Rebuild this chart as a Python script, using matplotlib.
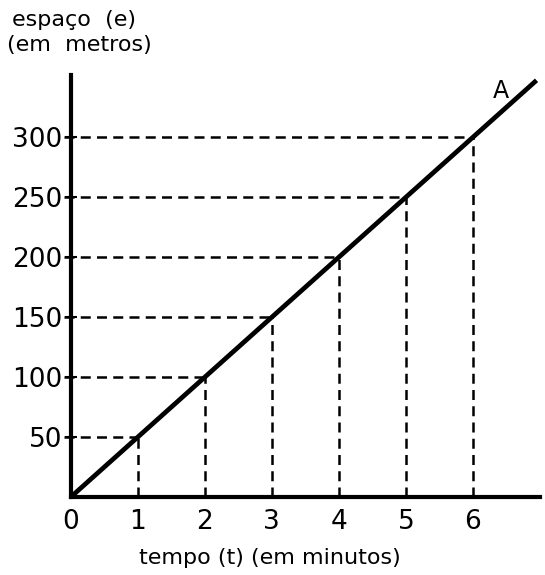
import matplotlib.pyplot as plt

# tempo (min) e espaço (m)
tempo = [0, 1, 2, 3, 4, 5, 6, 6.95]
espaco = [0, 50, 100, 150, 200, 250, 300, 347.5]
marcas_t = [1, 2, 3, 4, 5, 6]
marcas_e = [50, 100, 150, 200, 250, 300]
rotulos_x = ['0', '1', '2', '3', '4', '5', '6']


def main():
    plt.rcParams['font.family'] = ['DejaVu Sans']
    fig = plt.figure(figsize=(5.45, 5.75), dpi=100)
    ax = fig.add_axes([0.130, 0.1357, 0.8606, 0.734])

    ax.set_xlim(0, 7)
    ax.set_ylim(0, 352)

    # linhas de chamada tracejadas
    for t, e in zip(marcas_t, marcas_e):
        ax.plot([-0.1, t], [e, e], color='black', lw=1.8, ls=(0, (4, 2.5)),
                clip_on=False)
        ax.plot([t, t], [0, e], color='black', lw=1.8, ls=(0, (4, 2.5)))

    # reta do movimento
    ax.plot(tempo, espaco, color='black', lw=3.4, solid_capstyle='butt')
    ax.text(6.42, 339, 'A', fontsize=17, ha='center', va='center')

    for side in ['top', 'right']:
        ax.spines[side].set_visible(False)
    for side in ['left', 'bottom']:
        ax.spines[side].set_linewidth(3)

    ax.set_yticks(marcas_e)
    ax.set_yticklabels([str(v) for v in marcas_e], fontsize=19)
    ax.tick_params(axis='y', direction='inout', length=8, width=1.5, pad=2)

    ax.set_xticks(range(0, 7))
    ax.set_xticklabels(rotulos_x, fontsize=19)
    ax.tick_params(axis='x', length=0, pad=9)

    fig.text(0.496, 0.029, 'tempo (t) (em minutos)', fontsize=16,
             ha='center', va='center')
    fig.text(0.022, 0.965, 'espaço  (e)', fontsize=16, ha='left', va='center')
    fig.text(0.012, 0.922, '(em  metros)', fontsize=16, ha='left', va='center')

    fig.savefig('out.png', dpi=100)


if __name__ == '__main__':
    main()
